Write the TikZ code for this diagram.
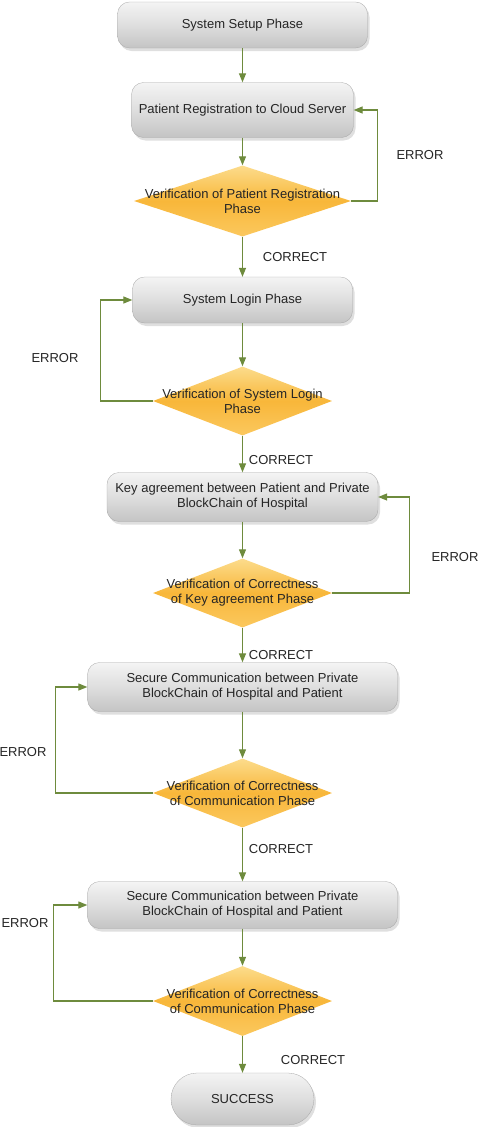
\documentclass[tikz,border=0pt]{standalone}
\usepackage{fontspec}
\setmainfont{Liberation Sans}
\usetikzlibrary{arrows.meta,shapes.geometric,shadows}
\definecolor{arrowgreen}{HTML}{6E8B3D}
\definecolor{txt}{HTML}{252525}
\definecolor{graytop}{HTML}{F4F4F4}
\definecolor{graymid}{HTML}{DEDEDE}
\definecolor{graybot}{HTML}{C4C4C4}
\definecolor{ytop}{HTML}{FCDC8C}
\definecolor{ymid}{HTML}{F8B73A}
\definecolor{ybot}{HTML}{FBC85E}
\tikzset{
  txtfont/.style={font=\fontsize{13}{15}\selectfont, text=txt},
  procbox/.style={rectangle, rounded corners=12pt, draw=graybot!85!black, line width=0.3pt,
    top color=graytop, bottom color=graybot, middle color=graymid,
    drop shadow={opacity=0.25, shadow xshift=2pt, shadow yshift=-3pt},
    inner sep=0pt, align=center, txtfont},
  decbox/.style={diamond, draw=none, top color=ytop, bottom color=ybot, middle color=ymid,
    inner sep=0pt},
  declabel/.style={align=center, txtfont, inner sep=0pt},
  arr/.style={draw=arrowgreen, line width=1.2pt, -{Triangle[length=9pt,width=7pt]}},
  lbl/.style={txtfont, inner sep=0pt},
}
\begin{document}
\begin{tikzpicture}[x=1pt,y=-1pt]
\useasboundingbox (0,0) rectangle (478,1127);
% process boxes
\node[procbox, minimum width=250pt, minimum height=46pt] (b1) at (242.5,25) {System Setup Phase};
\node[procbox, minimum width=222pt, minimum height=55pt] (b2) at (242.5,110) {Patient Registration to Cloud Server};
\node[decbox, minimum width=217pt, minimum height=71pt] (d1) at (242.5,201) {};
\node[declabel] at (d1.center) {Verification of Patient Registration\\Phase};
\node[procbox, minimum width=220pt, minimum height=46pt] (b3) at (242.5,300) {System Login Phase};
\node[decbox, minimum width=179pt, minimum height=69pt] (d2) at (242.5,401) {};
\node[declabel] at (d2.center) {Verification of System Login\\Phase};
\node[procbox, minimum width=271pt, minimum height=49pt] (b4) at (242.5,497) {Key agreement between Patient and Private\\BlockChain of Hospital};
\node[decbox, minimum width=179pt, minimum height=69pt] (d3) at (242.5,593) {};
\node[declabel] at (d3.center) {Verification of Correctness\\of Key agreement Phase};
\node[procbox, minimum width=310pt, minimum height=49pt] (b5) at (242.5,687) {Secure Communication between Private\\BlockChain of Hospital and Patient};
\node[decbox, minimum width=179pt, minimum height=69pt] (d4) at (242.5,793) {};
\node[declabel] at (d4.center) {Verification of Correctness\\of Communication Phase};
\node[procbox, minimum width=310pt, minimum height=47pt] (b6) at (242.5,905) {Secure Communication between Private\\BlockChain of Hospital and Patient};
\node[decbox, minimum width=179pt, minimum height=70pt] (d5) at (242.5,1001) {};
\node[declabel] at (d5.center) {Verification of Correctness\\of Communication Phase};
\node[procbox, rounded corners=26pt, minimum width=143pt, minimum height=52pt] (s) at (242.5,1099) {SUCCESS};
% main flow
\draw[arr] (b1.south) -- (b2.north);
\draw[arr] (b2.south) -- (d1.north);
\draw[arr] (d1.south) -- (b3.north);
\draw[arr] (b3.south) -- (d2.north);
\draw[arr] (d2.south) -- (b4.north);
\draw[arr] (b4.south) -- (d3.north);
\draw[arr] (d3.south) -- (b5.north);
\draw[arr] (b5.south) -- (d4.north);
\draw[arr] (d4.south) -- (b6.north);
\draw[arr] (b6.south) -- (d5.north);
\draw[arr] (d5.south) -- (s.north);
% error loops
\draw[arr] (d1.east) -- ++(26,0) |- (b2.east);
\draw[arr] (d2.west) -- ++(-52.5,0) |- (b3.west);
\draw[arr] (d3.east) -- ++(77.5,0) |- (b4.east);
\draw[arr] (d4.west) -- ++(-97.5,0) |- (b5.west);
\draw[arr] (d5.west) -- ++(-99.5,0) |- (b6.west);
% labels
\node[lbl] (e1) at (420,155) {ERROR};
\node[lbl] (c1) at (295,257) {CORRECT};
\node[lbl] (e2) at (55,358) {ERROR};
\node[lbl] (c2) at (281,460) {CORRECT};
\node[lbl] (e3) at (455,557) {ERROR};
\node[lbl] (c3) at (281,655) {CORRECT};
\node[lbl] (e4) at (23,752) {ERROR};
\node[lbl] (c4) at (281,849) {CORRECT};
\node[lbl] (e5) at (25,923) {ERROR};
\node[lbl] (c5) at (313,1060) {CORRECT};
\end{tikzpicture}
\end{document}
